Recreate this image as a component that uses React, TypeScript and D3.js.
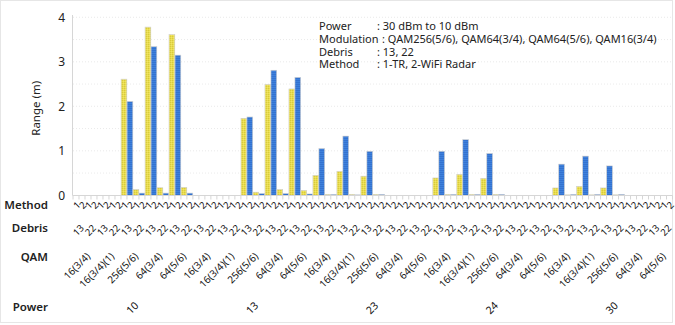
import React from "react";
import * as d3 from "d3";

const powers = ["10", "13", "23", "24", "30"];
const qams = ["16(3/4)", "16(3/4)(1)", "256(5/6)", "64(3/4)", "64(5/6)"];
const debris = ["13", "22"];
const methods = ["1", "2"];

// values per power, ordered qam -> debris -> method
const range10 = [0, 0, 0, 0, 0, 0, 0, 0, 2.61, 2.11, 0.13, 0.05, 3.78, 3.34, 0.17, 0.05, 3.61, 3.15, 0.18, 0.05];
const range13 = [0, 0, 0, 0, 0, 0, 0, 0, 1.73, 1.76, 0.07, 0.04, 2.49, 2.81, 0.13, 0.04, 2.39, 2.65, 0.11, 0.03];
const range23 = [0.45, 1.05, 0.02, 0.02, 0.54, 1.33, 0.02, 0.01, 0.43, 0.99, 0.02, 0.02, 0, 0, 0, 0, 0, 0, 0, 0];
const range24 = [0.39, 0.99, 0.02, 0.02, 0.47, 1.25, 0.02, 0.02, 0.38, 0.94, 0.02, 0.02, 0, 0, 0, 0, 0, 0, 0, 0];
const range30 = [0.165, 0.7, 0.01, 0.02, 0.2, 0.88, 0.01, 0.02, 0.165, 0.66, 0.01, 0.02, 0, 0, 0, 0, 0, 0, 0, 0];
const rangeByPower = [range10, range13, range23, range24, range30];

const yTicks = [0, 1, 2, 3, 4];
const yGrid = [0.5, 1, 1.5, 2, 2.5, 3, 3.5, 4];

const legendRows = [
  ["Power", ": 30 dBm to 10 dBm"],
  ["Modulation", ": QAM256(5/6), QAM64(3/4), QAM64(5/6), QAM16(3/4)"],
  ["Debris", ": 13, 22"],
  ["Method", ": 1-TR, 2-WiFi Radar"],
];

const FONT = "'Segoe UI', 'Noto Sans', 'Open Sans', sans-serif";

type Leaf = { key: string; p: number; q: number; d: number; m: number; value: number };

export default function App() {
  const W = 675;
  const H = 325;
  const leaves: Leaf[] = [];
  powers.forEach((pw, p) =>
    qams.forEach((qm, q) =>
      debris.forEach((db, d) =>
        methods.forEach((me, m) => {
          leaves.push({
            key: `${pw}|${qm}|${db}|${me}`,
            p, q, d, m,
            value: rangeByPower[p][q * 4 + d * 2 + m],
          });
        })
      )
    )
  );

  const x = d3
    .scaleBand<string>()
    .domain(leaves.map((l) => l.key))
    .range([73, 672.5])
    .paddingInner(0.04)
    .paddingOuter(0.02);
  const step = x.step();
  const x0 = x.range()[0];
  const y = d3.scaleLinear().domain([0, 4]).range([195.3, 17.3]);

  const center = (i0: number, n: number) => x0 + (i0 + n / 2) * step;

  return (
    <div style={{ position: "absolute", left: 0, top: 0 }}>
      <svg width={W} height={H} style={{ display: "block", fontFamily: FONT }}>
        <defs>
          <pattern id="pY" width="2" height="2" patternUnits="userSpaceOnUse">
            <rect width="2" height="2" fill="#e9dc4e" />
            <rect width="1" height="1" fill="#d8ca3c" />
            <rect x="1" y="1" width="1" height="1" fill="#efe466" />
          </pattern>
          <pattern id="pB" width="2" height="2" patternUnits="userSpaceOnUse">
            <rect width="2" height="2" fill="#3e81dc" />
            <rect width="2" height="1" fill="#3472cf" />
          </pattern>
        </defs>
        <rect x={0.5} y={0.5} width={W - 3} height={H - 3} fill="white" stroke="#e6e6e6" />

        {/* grid */}
        {yGrid.map((g) => (
          <line key={g} x1={73} x2={672.5} y1={y(g)} y2={y(g)} stroke="#e4e4e4" strokeDasharray="1,2" strokeWidth={0.8} />
        ))}

        {/* y axis */}
        <line x1={72.5} x2={72.5} y1={15} y2={195.5} stroke="#d6d6d6" />
        {yTicks.map((t) => (
          <text key={t} x={65} y={y(t)} dy="0.35em" textAnchor="end" fontSize={12} fill="#222">
            {t}
          </text>
        ))}
        <text
          transform={`translate(40,${(y(0) + y(4)) / 2 + 2}) rotate(-90)`}
          textAnchor="middle"
          fontSize={11.5}
          fill="#222"
        >
          Range (m)
        </text>

        {/* bars */}
        {leaves.map((l) =>
          l.value > 0 ? (
            <rect
              key={l.key}
              x={x(l.key)}
              y={y(l.value)}
              width={x.bandwidth()}
              height={y(0) - y(l.value)}
              fill={l.m === 0 ? "url(#pY)" : "url(#pB)"}
              stroke="#cfcfcf"
              strokeWidth={0.6}
            />
          ) : null
        )}

        {/* x axis */}
        <line x1={72.5} x2={672.5} y1={195.5} y2={195.5} stroke="#d6d6d6" />
        {d3.range(101).map((i) => (
          <line key={i} x1={x0 + i * step} x2={x0 + i * step} y1={195.5} y2={199.5} stroke="#d6d6d6" />
        ))}

        {/* method labels */}
        {leaves.map((l, i) => (
          <text
            key={"m" + l.key}
            transform={`translate(${center(i, 1) + 0.5},${201}) rotate(-45)`}
            textAnchor="end"
            dy="0.7em"
            fontSize={9.5}
            fill="#111"
          >
            {methods[l.m]}
          </text>
        ))}
        {/* debris labels */}
        {d3.range(50).map((j) => (
          <text
            key={"d" + j}
            transform={`translate(${center(j * 2, 2) + 1},${224}) rotate(-45)`}
            textAnchor="end"
            dy="0.7em"
            fontSize={9.5}
            fill="#111"
          >
            {debris[j % 2]}
          </text>
        ))}
        {/* qam labels */}
        {d3.range(25).map((j) => (
          <text
            key={"q" + j}
            transform={`translate(${center(j * 4, 4) + 1},${252}) rotate(-45)`}
            textAnchor="end"
            dy="0.7em"
            fontSize={10}
            fill="#111"
          >
            {qams[j % 5]}
          </text>
        ))}
        {/* power labels */}
        {powers.map((pw, j) => (
          <text
            key={"p" + j}
            transform={`translate(${center(j * 20, 20) + 1},${301}) rotate(-45)`}
            textAnchor="end"
            dy="0.7em"
            fontSize={10.5}
            fill="#111"
          >
            {pw}
          </text>
        ))}

        {/* row labels */}
        {[
          ["Method", 209],
          ["Debris", 232],
          ["QAM", 261],
          ["Power", 311],
        ].map(([t, yy]) => (
          <text key={t as string} x={48} y={yy as number} textAnchor="end" fontSize={11.5} fontWeight={600} fill="#222">
            {t}
          </text>
        ))}

        {/* info box */}
        <text fontSize={11} fill="#222">
          {legendRows.map(([k, v], i) => (
            <React.Fragment key={k}>
              <tspan x={319} y={30 + i * 12.8}>{k}</tspan>
              <tspan x={i === 1 ? 382 : 377} y={30 + i * 12.8}>{v}</tspan>
            </React.Fragment>
          ))}
        </text>
      </svg>
    </div>
  );
}
